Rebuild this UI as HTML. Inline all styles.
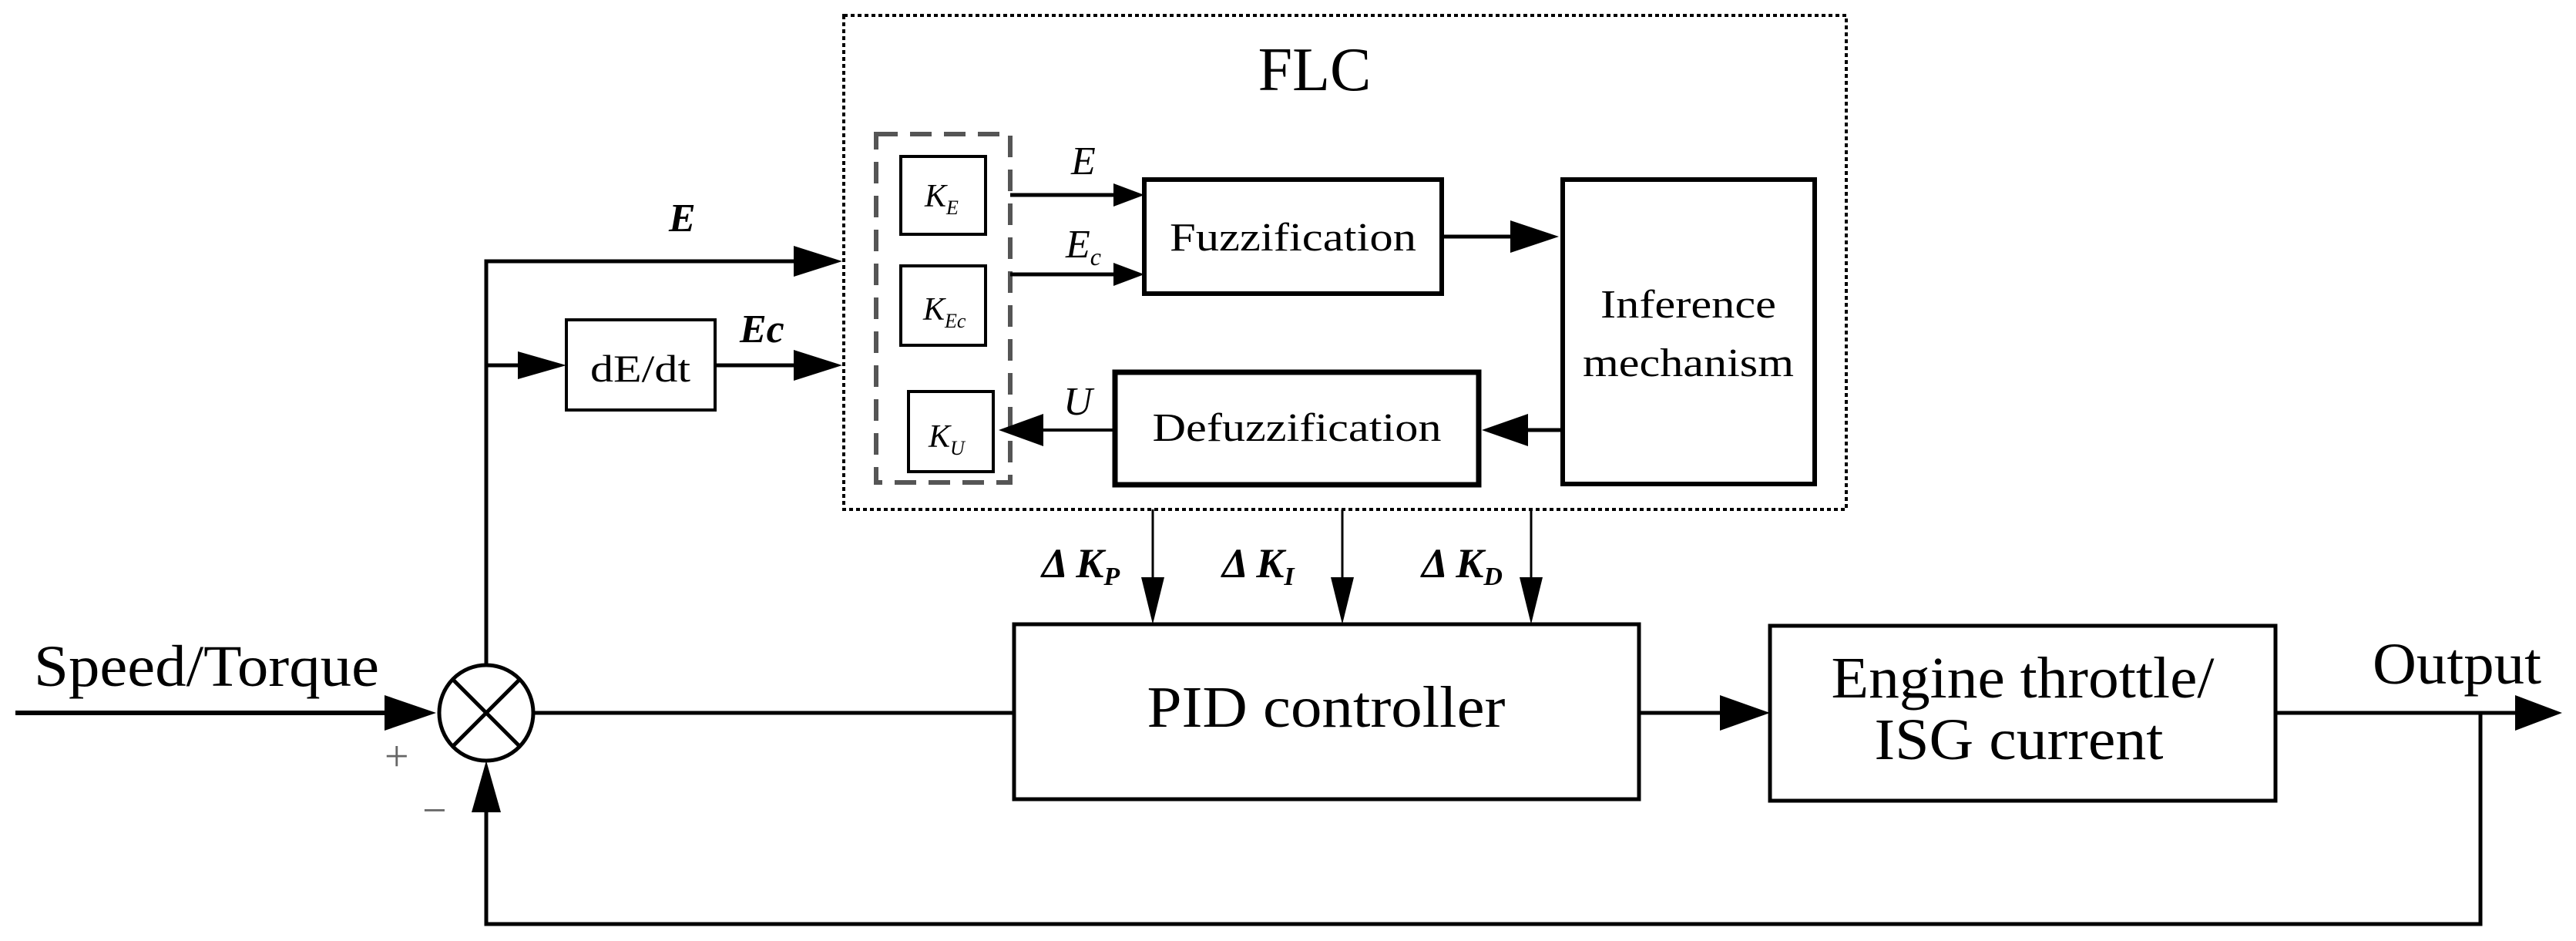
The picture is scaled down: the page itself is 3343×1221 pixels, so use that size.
<!DOCTYPE html>
<html><head><meta charset="utf-8"><style>html,body{margin:0;padding:0;background:#fff}svg{display:block}text{font-family:"Liberation Serif","Times New Roman",serif}</style></head><body>
<svg width="3343" height="1221" viewBox="0 0 3343 1221" xmlns="http://www.w3.org/2000/svg">
<g stroke="#000" stroke-width="5" fill="none">
<rect x="1095" y="20" width="1301" height="641" stroke-width="4" stroke-dasharray="5,4"/>
<rect x="1137" y="174" width="174" height="452" stroke="#555" stroke-width="6" stroke-dasharray="28,16"/>
<rect x="1169" y="203" width="110" height="101" stroke-width="4"/>
<rect x="1169" y="345" width="110" height="103" stroke-width="4"/>
<rect x="1179" y="508" width="110" height="104" stroke-width="4"/>
<rect x="1485" y="233" width="386" height="148" stroke-width="6"/>
<rect x="2028" y="233" width="327" height="395" stroke-width="6"/>
<rect x="1447" y="483" width="472" height="146" stroke-width="7"/>
<rect x="735" y="415" width="193" height="117" stroke-width="4"/>
<rect x="1316" y="810" width="811" height="227" stroke-width="5"/>
<rect x="2297" y="812" width="656" height="227" stroke-width="5"/>
<ellipse cx="631" cy="925" rx="61" ry="62" stroke-width="5"/>
<line x1="588" y1="882" x2="674" y2="968"/>
<line x1="674" y1="882" x2="588" y2="968"/>
<path d="M631,863 V339 H1040"/>
<path d="M631,474 H690"/>
<path d="M928,474 H1040"/>
<path d="M20,925 H510" stroke-width="6"/>
<path d="M692,925 H1316"/>
<path d="M2127,925 H2240"/>
<path d="M2953,925 H3270"/>
<path d="M3219,925 V1199 H631 V1050"/>
<path d="M1311,253 H1450"/>
<path d="M1311,356 H1450"/>
<path d="M1871,307 H1960"/>
<path d="M2028,558 H1983"/>
<path d="M1447,558 H1354" stroke-width="4"/>
<path d="M1496,661 V750" stroke-width="3"/>
<path d="M1742,661 V750" stroke-width="3"/>
<path d="M1987,661 V750" stroke-width="3"/>
</g>
<g fill="#000">
<path d="M1030,319 L1093,339 L1030,359z"/>
<path d="M1030,454 L1093,474 L1030,494z"/>
<path d="M672,456 L735,474 L672,492z"/>
<path d="M499,902 L566,925 L499,948z"/>
<path d="M612,1054 L631,987 L650,1054z"/>
<path d="M1445,238 L1485,253 L1445,268z"/>
<path d="M1445,341 L1485,356 L1445,371z"/>
<path d="M1960,286 L2023,307 L1960,328z"/>
<path d="M1983,537 L1923,558 L1983,579z"/>
<path d="M1354,537 L1296,558 L1354,579z"/>
<path d="M1481,749 L1496,810 L1511,749z"/>
<path d="M1727,749 L1742,810 L1757,749z"/>
<path d="M1972,749 L1987,810 L2002,749z"/>
<path d="M2232,902 L2297,925 L2232,948z"/>
<path d="M3264,902 L3325,925 L3264,948z"/>
</g>
<g fill="#000">
<text x="1706" y="117" font-size="80" text-anchor="middle">FLC</text>
<text x="44" y="890" font-size="76" textLength="448" lengthAdjust="spacingAndGlyphs">Speed/Torque</text>
<text x="499" y="1000" font-size="56" fill="#666">+</text>
<text x="548" y="1070" font-size="56" fill="#666">−</text>
<text x="868" y="300" font-size="52" font-style="italic" font-weight="bold">E</text>
<text x="960" y="444" font-size="52" font-style="italic" font-weight="bold">Ec</text>
<text x="831" y="495" font-size="50" text-anchor="middle" textLength="130" lengthAdjust="spacingAndGlyphs">dE/dt</text>
<text x="1390" y="226" font-size="52" font-style="italic">E</text>
<text x="1383" y="334" font-size="52" font-style="italic">E<tspan font-size="32" dy="10">c</tspan></text>
<text x="1380" y="538" font-size="52" font-style="italic">U</text>
<text x="1200" y="268" font-size="42" font-style="italic">K<tspan font-size="26" dy="10">E</tspan></text>
<text x="1198" y="415" font-size="42" font-style="italic">K<tspan font-size="26" dy="10">Ec</tspan></text>
<text x="1205" y="580" font-size="42" font-style="italic">K<tspan font-size="26" dy="10">U</tspan></text>
<text x="1678" y="325" font-size="52" text-anchor="middle" textLength="320" lengthAdjust="spacingAndGlyphs">Fuzzification</text>
<text x="1683" y="572" font-size="52" text-anchor="middle" textLength="375" lengthAdjust="spacingAndGlyphs">Defuzzification</text>
<text x="2191" y="412" font-size="52" text-anchor="middle" textLength="228" lengthAdjust="spacingAndGlyphs">Inference</text>
<text x="2191" y="488" font-size="52" text-anchor="middle" textLength="274" lengthAdjust="spacingAndGlyphs">mechanism</text>
<text x="1352" y="749" font-size="54" font-style="italic" font-weight="bold">Δ K<tspan font-size="34" dy="10">P</tspan></text>
<text x="1586" y="749" font-size="54" font-style="italic" font-weight="bold">Δ K<tspan font-size="34" dy="10">I</tspan></text>
<text x="1845" y="749" font-size="54" font-style="italic" font-weight="bold">Δ K<tspan font-size="34" dy="10">D</tspan></text>
<text x="1721" y="943" font-size="76" text-anchor="middle" textLength="465" lengthAdjust="spacingAndGlyphs">PID controller</text>
<text x="2625" y="905" font-size="76" text-anchor="middle" textLength="497" lengthAdjust="spacingAndGlyphs">Engine throttle/</text>
<text x="2620" y="985" font-size="76" text-anchor="middle" textLength="375" lengthAdjust="spacingAndGlyphs">ISG current</text>
<text x="3079" y="887" font-size="76" textLength="219" lengthAdjust="spacingAndGlyphs">Output</text>
</g>
</svg>
</body></html>
